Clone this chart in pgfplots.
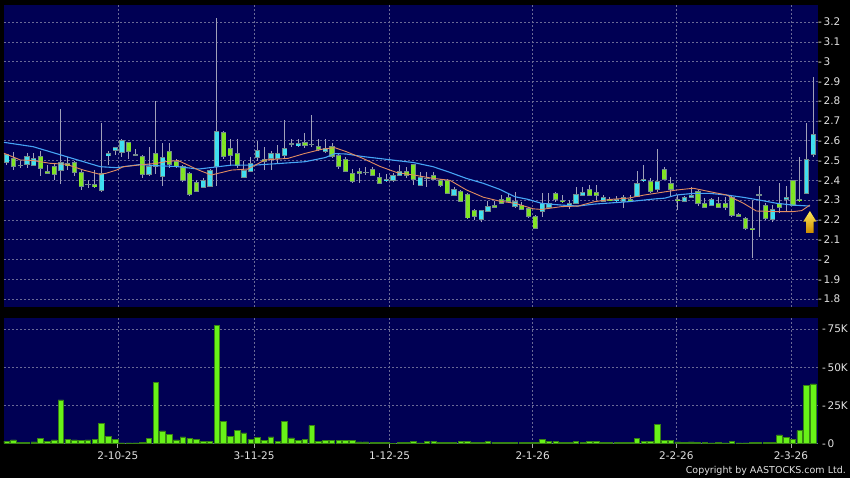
\documentclass[border=0pt]{standalone}
\usepackage{fontspec}
\setmainfont{DejaVu Sans}
\usepackage{pgfplots}
\usepackage{pgfplotstable}
\pgfplotsset{compat=1.18}

\definecolor{panel}{RGB}{0,0,84}
\definecolor{gridc}{RGB}{105,105,150}
\definecolor{upc}{RGB}{64,224,240}
\definecolor{dnc}{RGB}{128,228,36}
\definecolor{edgec}{RGB}{115,140,140}
\definecolor{wickc}{RGB}{160,160,185}
\definecolor{volc}{RGB}{104,242,24}
\definecolor{voledge}{RGB}{55,130,20}
\definecolor{maorange}{RGB}{226,140,96}
\definecolor{mablue}{RGB}{70,165,245}
\definecolor{labc}{RGB}{225,225,225}
\definecolor{tickc}{RGB}{170,170,170}

\newcommand{\yl}[1]{-\hspace{1.6pt}#1}

% i  open high low close  k (1 up, 2 down, 0 flat)  volume (K)
\pgfplotstableread{
i o h l c k v
0 2.49 2.535 2.48 2.53 1 1.5
1 2.51 2.545 2.45 2.47 2 2.2
2 2.477 2.50 2.46 2.477 0 0.7
3 2.48 2.54 2.46 2.52 1 0.7
4 2.475 2.54 2.47 2.51 1 0.9
5 2.52 2.55 2.42 2.46 2 3.1
6 2.445 2.48 2.43 2.435 2 1.5
7 2.47 2.49 2.40 2.43 2 2.2
8 2.45 2.76 2.38 2.49 1 28.5
9 2.485 2.52 2.45 2.475 2 2.8
10 2.49 2.50 2.42 2.44 2 2.2
11 2.44 2.45 2.35 2.37 2 1.8
12 2.38 2.40 2.36 2.38 0 2.2
13 2.377 2.45 2.36 2.367 2 2.4
14 2.35 2.69 2.34 2.435 1 13.1
15 2.525 2.55 2.48 2.535 1 4.4
16 2.55 2.57 2.53 2.565 1 2.8
17 2.54 2.61 2.52 2.60 1 0.2
18 2.59 2.595 2.51 2.545 2 0.2
19 2.53 2.56 2.525 2.53 0 0.2
20 2.52 2.53 2.41 2.43 2 0.7
21 2.43 2.57 2.42 2.47 1 3.3
22 2.535 2.80 2.43 2.47 2 39.9
23 2.42 2.59 2.37 2.515 1 8.1
24 2.545 2.59 2.46 2.48 2 6.1
25 2.495 2.51 2.46 2.47 2 2.2
26 2.47 2.48 2.39 2.40 2 4.2
27 2.435 2.44 2.32 2.33 2 3.3
28 2.39 2.40 2.34 2.345 2 2.4
29 2.365 2.41 2.36 2.40 1 1.1
30 2.37 2.455 2.365 2.45 1 1.1
31 2.47 3.22 2.37 2.645 1 77.7
32 2.64 2.65 2.51 2.52 2 14.2
33 2.56 2.61 2.47 2.525 2 4.4
34 2.535 2.61 2.46 2.477 2 8.5
35 2.415 2.50 2.41 2.45 1 6.8
36 2.445 2.52 2.44 2.485 1 2.4
37 2.515 2.60 2.50 2.55 1 3.7
38 2.505 2.57 2.45 2.497 2 2.0
39 2.51 2.55 2.45 2.535 1 4.2
40 2.51 2.58 2.49 2.535 1 1.5
41 2.525 2.705 2.51 2.56 1 14.2
42 2.585 2.61 2.57 2.585 0 3.5
43 2.575 2.61 2.57 2.585 1 2.0
44 2.59 2.64 2.565 2.575 2 2.8
45 2.583 2.73 2.57 2.583 0 11.6
46 2.57 2.61 2.55 2.557 2 1.5
47 2.545 2.61 2.54 2.56 1 2.0
48 2.573 2.59 2.515 2.523 2 2.0
49 2.523 2.535 2.455 2.472 2 2.0
50 2.505 2.52 2.44 2.445 2 2.0
51 2.435 2.455 2.385 2.395 2 2.0
52 2.445 2.46 2.385 2.437 2 0.9
53 2.44 2.465 2.425 2.44 0 0.9
54 2.455 2.465 2.42 2.425 2 0.7
55 2.415 2.435 2.38 2.385 2 0.7
56 2.397 2.43 2.39 2.405 1 0.4
57 2.397 2.435 2.39 2.424 1 0.1
58 2.427 2.48 2.42 2.444 1 0.7
59 2.444 2.465 2.41 2.424 2 0.7
60 2.478 2.485 2.377 2.405 2 1.1
61 2.376 2.444 2.37 2.413 1 0.2
62 2.41 2.444 2.368 2.41 0 1.1
63 2.424 2.444 2.40 2.405 2 1.5
64 2.397 2.405 2.364 2.376 2 0.7
65 2.397 2.405 2.33 2.335 2 0.7
66 2.326 2.368 2.32 2.354 1 0.7
67 2.343 2.35 2.29 2.295 2 1.1
68 2.326 2.335 2.205 2.21 2 1.5
69 2.245 2.253 2.20 2.22 2 0.4
70 2.20 2.25 2.19 2.245 1 0.7
71 2.242 2.297 2.24 2.267 1 1.1
72 2.275 2.297 2.26 2.264 2 0.7
73 2.304 2.325 2.28 2.284 2 0.7
74 2.312 2.33 2.285 2.292 2 0.4
75 2.267 2.343 2.258 2.295 1 0.7
76 2.272 2.29 2.25 2.255 2 0.4
77 2.258 2.267 2.21 2.216 2 0.7
78 2.216 2.225 2.152 2.157 2 0.4
79 2.242 2.334 2.216 2.284 1 2.8
80 2.262 2.334 2.255 2.284 1 1.5
81 2.334 2.343 2.29 2.304 2 1.3
82 2.30 2.325 2.285 2.293 2 0.7
83 2.275 2.30 2.254 2.284 1 0.7
84 2.284 2.365 2.28 2.326 1 1.5
85 2.326 2.365 2.32 2.338 1 0.7
86 2.355 2.376 2.32 2.326 2 1.1
87 2.338 2.376 2.30 2.326 2 1.1
88 2.295 2.326 2.29 2.314 1 0.7
89 2.304 2.315 2.295 2.298 2 0.7
90 2.298 2.32 2.29 2.304 1 0.4
91 2.292 2.326 2.258 2.314 1 0.4
92 2.304 2.326 2.29 2.298 2 0.4
93 2.321 2.445 2.317 2.385 1 3.3
94 2.397 2.477 2.39 2.405 1 1.3
95 2.393 2.41 2.335 2.343 2 1.3
96 2.354 2.56 2.34 2.393 1 12.5
97 2.455 2.465 2.40 2.405 2 2.0
98 2.385 2.418 2.32 2.355 2 2.0
99 2.304 2.326 2.25 2.296 2 0.9
100 2.294 2.32 2.29 2.314 1 0.4
101 2.315 2.365 2.31 2.325 1 0.9
102 2.343 2.35 2.27 2.284 2 0.7
103 2.284 2.31 2.26 2.264 2 0.4
104 2.274 2.31 2.27 2.304 1 0.2
105 2.284 2.314 2.26 2.264 2 0.7
106 2.284 2.314 2.25 2.264 2 0.2
107 2.314 2.32 2.216 2.225 2 1.3
108 2.228 2.235 2.215 2.22 2 0.2
109 2.208 2.216 2.15 2.157 2 0.2
110 2.157 2.30 2.006 2.15 2 0.4
111 2.326 2.37 2.115 2.326 0 0.4
112 2.274 2.284 2.20 2.208 2 0.7
113 2.20 2.275 2.19 2.253 1 0.7
114 2.284 2.385 2.235 2.264 2 5.5
115 2.304 2.37 2.24 2.314 1 3.7
116 2.397 2.40 2.27 2.275 2 2.6
117 2.305 2.52 2.29 2.296 2 8.3
118 2.334 2.69 2.33 2.506 1 37.9
119 2.533 2.92 2.52 2.633 1 39.0
}\candles

\pgfplotsset{
  chartpanel/.style={
    scale only axis, width=814pt,
    xmin=-0.4, xmax=119.7,
    axis background/.style={fill=panel},
    axis line style={draw=none},
    xtick={16.4,36.5,56.5,77.6,98.8,115.7},
    xmajorgrids, ymajorgrids,
    major grid style={gridc, line width=0.6pt, dash pattern=on 2pt off 2pt},
    ytick pos=right, yticklabel pos=right,
    ytick style={draw=none},
    yticklabel style={anchor=west, inner sep=0pt, xshift=0pt, text=labc,
      font=\fontsize{10.5}{12}\selectfont},
    xticklabel style={text=labc, font=\fontsize{10.5}{12}\selectfont},
  },
  ebar/.style 2 args={only marks, mark=*, mark size=0pt,
    mark options={draw=none, fill=none}, forget plot,
    error bars/.cd, y dir=both, y explicit, error mark=none,
    error bar style={#1, line width=#2}},
}

\begin{document}
\begin{tikzpicture}[x=1pt,y=1pt]
\useasboundingbox (0,0) rectangle (850,478);
\fill[black] (0,0) rectangle (850,478);

% price panel
\begin{axis}[chartpanel,
  at={(4pt,171pt)}, anchor=south west, height=302pt,
  ymin=1.76, ymax=3.286,
  ytick={1.8,1.9,2,2.1,2.2,2.3,2.4,2.5,2.6,2.7,2.8,2.9,3,3.1,3.2},
  yticklabels={\yl{1.8},\yl{1.9},\yl{2},\yl{2.1},\yl{2.2},\yl{2.3},\yl{2.4},\yl{2.5},\yl{2.6},\yl{2.7},\yl{2.8},\yl{2.9},\yl{3},\yl{3.1},\yl{3.2}},
  xticklabels={}, xtick style={draw=none},
]
% wicks
\addplot[ebar={wickc}{1pt}] table[x=i, y expr={(\thisrow{h}+\thisrow{l})/2},
  y error expr={(\thisrow{h}-\thisrow{l})/2}] {\candles};
% body outlines
\addplot[ebar={edgec}{5.2pt}] table[x=i, y expr={(\thisrow{o}+\thisrow{c})/2},
  y error expr={abs(\thisrow{c}-\thisrow{o})/2+0.0028}] {\candles};
% rising bodies
\addplot[restrict expr to domain={\thisrow{k}}{1:1}, ebar={upc}{3.8pt}]
  table[x=i, y expr={(\thisrow{o}+\thisrow{c})/2},
  y error expr={max(abs(\thisrow{c}-\thisrow{o})/2-0.0022,0)}] {\candles};
% falling bodies
\addplot[restrict expr to domain={\thisrow{k}}{2:2}, ebar={dnc}{3.8pt}]
  table[x=i, y expr={(\thisrow{o}+\thisrow{c})/2},
  y error expr={max(abs(\thisrow{c}-\thisrow{o})/2-0.0022,0)}] {\candles};

% moving averages
\addplot[mablue, line width=1.1pt, line join=round] coordinates {
(-0.4,2.592) (3.9,2.57) (8.8,2.52) (13.8,2.469) (16.2,2.464) (19.7,2.48)
(22.1,2.474) (25,2.47) (28.3,2.457) (31.2,2.469) (33.2,2.477) (36.6,2.477)
(40.6,2.486) (44,2.494) (47,2.515) (48.4,2.535) (50.1,2.533) (52.6,2.52)
(55.1,2.51) (57.5,2.50) (60,2.49) (62.9,2.469) (65,2.445) (67.8,2.41)
(70.3,2.385) (72.7,2.355) (75,2.317) (76.9,2.304) (78.9,2.284) (81.8,2.275)
(84.3,2.27) (86.7,2.28) (89.2,2.286) (91.7,2.292) (95.6,2.306) (97.1,2.31)
(98.8,2.326) (101.3,2.334) (103.7,2.334) (106.2,2.326) (108.7,2.314)
(111.1,2.30) (113.6,2.284) (116,2.275) (118.5,2.27)
};
\addplot[maorange, line width=0.9pt, line join=round] coordinates {
(-0.4,2.537) (2,2.503) (3.9,2.50) (6.4,2.486) (8.8,2.481) (11.3,2.452)
(13.8,2.43) (14.7,2.436) (16.2,2.452) (17.2,2.469) (19.7,2.478) (22.1,2.486)
(23.6,2.495) (25.3,2.50) (28.3,2.452) (30.2,2.427) (33.2,2.452) (35.6,2.457)
(38.1,2.503) (41.5,2.511) (44,2.536) (46.5,2.557) (48.4,2.565) (50.1,2.545)
(52.6,2.51) (55.1,2.47) (57.5,2.44) (60,2.427) (62.9,2.41) (65.4,2.40)
(67.8,2.352) (70.3,2.315) (72.7,2.295) (75,2.284) (77.7,2.256) (78.9,2.253)
(81.8,2.267) (84.3,2.27) (86.7,2.292) (89.2,2.304) (91.7,2.31) (94.1,2.326)
(96.4,2.338) (98.8,2.351) (101.3,2.36) (103.7,2.343) (106.2,2.326)
(108.7,2.284) (110.6,2.245) (113.6,2.242) (116,2.242) (117.3,2.247) (118.5,2.275)
};

% latest-price arrow
\fill[top color={rgb,255:red,255;green,232;blue,90}, bottom color={rgb,255:red,205;green,140;blue,0}]
  (axis cs:118.5,2.245) -- (axis cs:119.49,2.191) -- (axis cs:119.04,2.191)
  -- (axis cs:119.04,2.135) -- (axis cs:117.96,2.135) -- (axis cs:117.96,2.191)
  -- (axis cs:117.51,2.191) -- cycle;
\end{axis}

% volume panel
\begin{axis}[chartpanel,
  at={(4pt,34pt)}, anchor=south west, height=126pt,
  ymin=-0.46, ymax=82.4,
  ytick={0,25,50,75},
  yticklabels={\yl{0},\yl{25K},\yl{50K},\yl{75K}},
  xticklabels={2-10-25,3-11-25,1-12-25,2-1-26,2-2-26,2-3-26},
  xtick pos=bottom, tick align=outside, major tick length=4pt,
  xtick style={draw=tickc, line width=0.8pt},
]
\addplot[ybar, bar width=5.6pt, bar shift=0pt, fill=volc, draw=voledge, line width=0.7pt]
  table[x=i, y=v] {\candles};
\end{axis}

\node[anchor=base east, text=labc, font=\fontsize{9.5}{11}\selectfont, inner sep=0pt]
  at (846,4.5) {Copyright by AASTOCKS.com Ltd.};
\end{tikzpicture}
\end{document}
